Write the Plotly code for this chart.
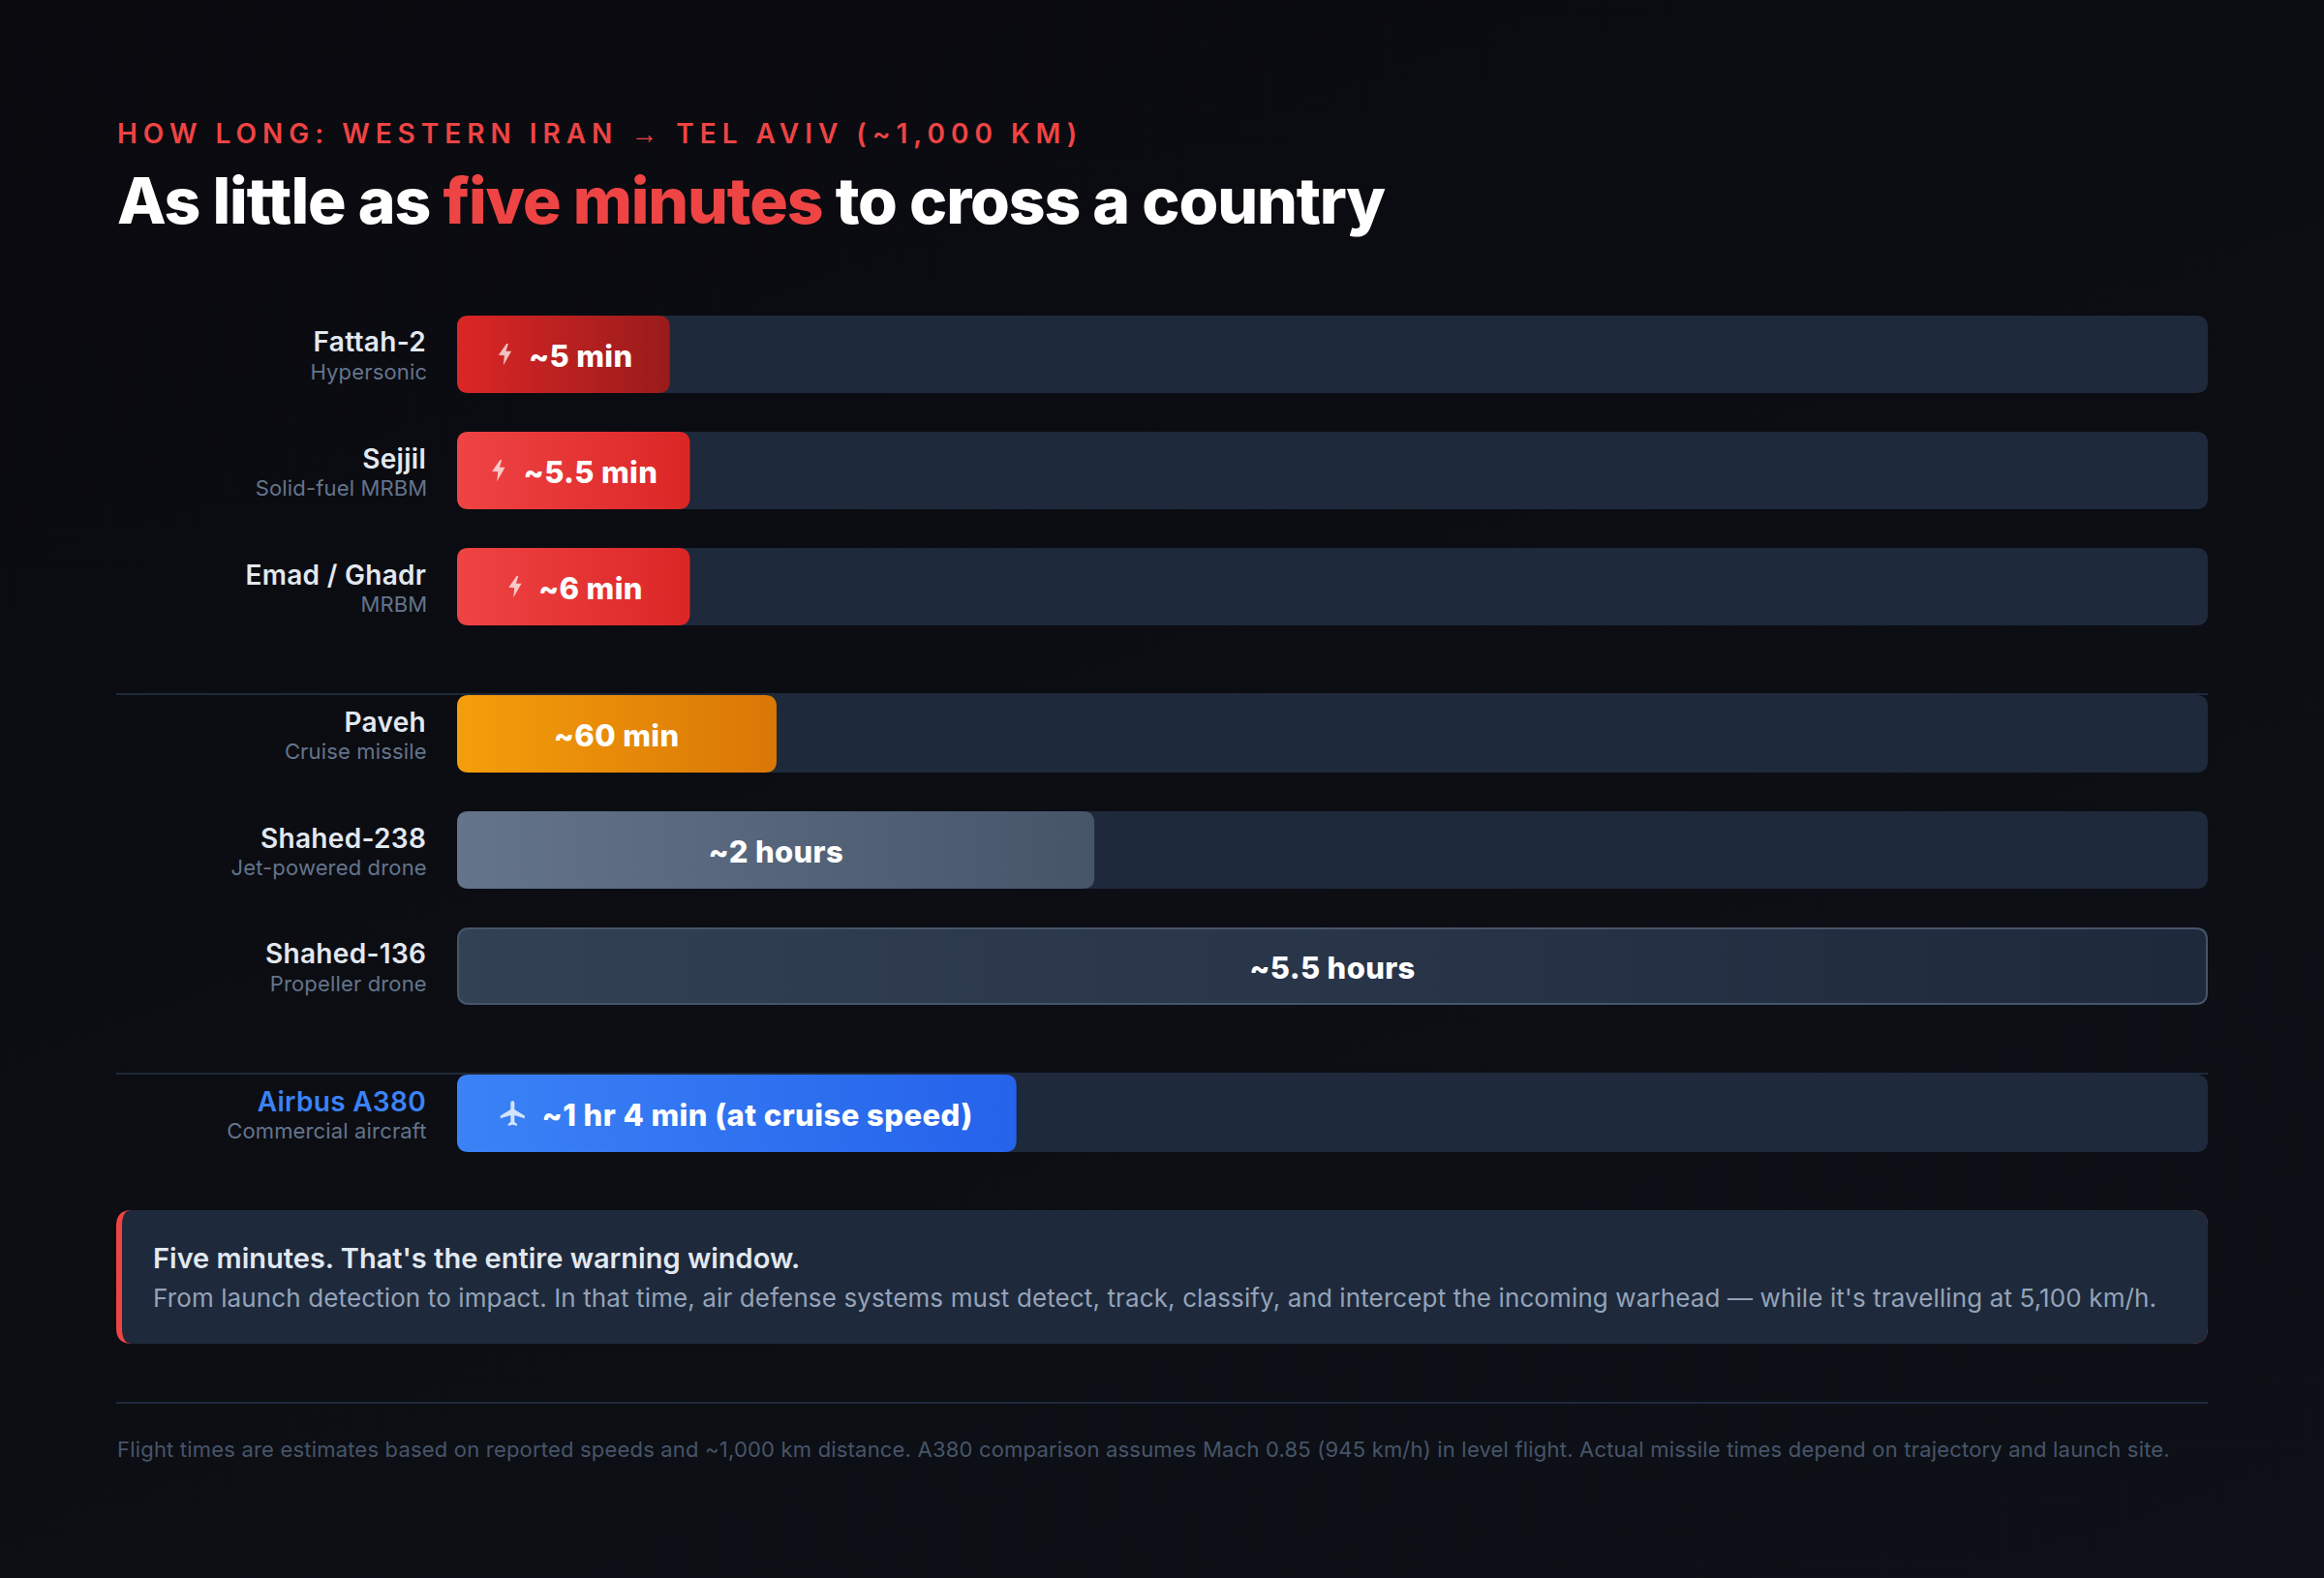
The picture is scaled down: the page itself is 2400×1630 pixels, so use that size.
import json
import plotly.graph_objects as go

# ---- data ----
names = ["Fattah-2", "Sejjil", "Emad / Ghadr", "Paveh", "Shahed-238", "Shahed-136", "Airbus A380"]
types = ["Hypersonic", "Solid-fuel MRBM", "MRBM", "Cruise missile", "Jet-powered drone", "Propeller drone", "Commercial aircraft"]
bar_share = [12.15, 13.3, 13.3, 18.25, 36.4, 100, 31.95]   # bar length as % of the track
time_labels = ["~5 min", "~5.5 min", "~6 min", "~60 min", "~2 hours", "~5.5 hours", "~1 hr 4 min (at cruise speed)"]
groups = [0, 0, 0, 1, 1, 1, 2]
icons = ["bolt", "bolt", "bolt", None, None, None, "plane"]
grad_start = ["#dc2626", "#ef4444", "#ef4444", "#f59e0b", "#64748b", "#334155", "#3b82f6"]
grad_end = ["#991b1b", "#dc2626", "#dc2626", "#d97706", "#475569", "#1e293b", "#2563eb"]

eyebrow = ('HOW LONG: WESTERN IRAN <span style="font-family:\'Liberation Sans\';font-weight:400">→</span> '
           'TEL AVIV (~1,000 KM)')
title = 'As little as <span style="color:#ef4444">five minutes</span> to cross a country'
call_head = "Five minutes. That's the entire warning window."
call_body = ("From launch detection to impact. In that time, air defense systems must detect, track, classify, "
             "and intercept the incoming warhead — while it's travelling at 5,100 km/h.")
footnote = ("Flight times are estimates based on reported speeds and ~1,000 km distance. A380 comparison assumes "
            "Mach 0.85 (945 km/h) in level flight. Actual missile times depend on trajectory and launch site.")

# ---- layout constants (pixels on the 2400x1630 canvas) ----
W, H = 2400, 1630
L, R, TX0, TX1 = 120, 2280, 472, 2280
ROW0, STEP, BAR_H, GROUP_GAP = 366, 120, 80, 32
FONT = "Inter"

row_pos = [i + g * GROUP_GAP / STEP for i, g in enumerate(groups)]
row_px = [ROW0 + p * STEP for p in row_pos]


def px(x):
    return x / W


def py(y):
    return 1 - y / H


def data_x(v):
    return TX0 + v / 100 * (TX1 - TX0)


def poly(points):
    return "M" + " L".join(f"{px(x):.5f},{py(y):.5f}" for x, y in points) + " Z"


def rrect(x0, y0, x1, y1, r):
    return (f"M{px(x0 + r):.5f},{py(y0):.5f} L{px(x1 - r):.5f},{py(y0):.5f} "
            f"Q{px(x1):.5f},{py(y0):.5f} {px(x1):.5f},{py(y0 + r):.5f} "
            f"L{px(x1):.5f},{py(y1 - r):.5f} Q{px(x1):.5f},{py(y1):.5f} {px(x1 - r):.5f},{py(y1):.5f} "
            f"L{px(x0 + r):.5f},{py(y1):.5f} Q{px(x0):.5f},{py(y1):.5f} {px(x0):.5f},{py(y1 - r):.5f} "
            f"L{px(x0):.5f},{py(y0 + r):.5f} Q{px(x0):.5f},{py(y0):.5f} {px(x0 + r):.5f},{py(y0):.5f} Z")


annotations = []
spacing = {}


def text(x, y, s, size, color, weight=400, anchor="left", ls=0):
    annotations.append(dict(x=px(x), y=py(y), xref="paper", yref="paper", text=s, showarrow=False,
                            xanchor=anchor, yanchor="middle", align=anchor,
                            font=dict(family=FONT, size=size, color=color, weight=weight)))
    if ls:
        plain = s.split("<")[0]
        spacing[plain] = ls


shapes = []


def fill_path(path, color, layer="above"):
    shapes.append(dict(type="path", path=path, xref="paper", yref="paper", fillcolor=color,
                       line=dict(width=0), layer=layer))


fig = go.Figure()
fig.add_trace(go.Bar(y=row_pos, x=[100] * len(names), orientation="h", width=BAR_H / STEP,
                     marker=dict(color="#1e293b", line=dict(width=0)),
                     hoverinfo="skip", showlegend=False))
fig.add_trace(go.Bar(y=row_pos, x=bar_share, orientation="h", width=BAR_H / STEP,
                     marker=dict(color=grad_start,
                                 line=dict(width=[2 if v >= 100 else 0 for v in bar_share], color="#475569")),
                     hoverinfo="skip", showlegend=False))

# header
text(L - 1.5, 138, eyebrow, 28, "#ef4444", 600, ls=5.98)
text(L - 1.5, 207, title, 66, "#ffffff", 800, ls=-1.15)

# row labels, values, icons
SHIFT = {"bolt": 18, "plane": 21.5, None: 0}
HALF = {"~5 min": 52, "~5.5 min": 69, "~6 min": 52, "~1 hr 4 min (at cruise speed)": 222}
for i, n in enumerate(names):
    y = row_px[i]
    text(442, y - 12.5, n, 28, "#3b82f6" if n.startswith("Airbus") else "#e2e8f0", 600, "right", ls=0.3)
    text(442.5, y + 18, types[i], 22, "#64748b", 400, "right", ls=0.15)
    cx = (data_x(0) + data_x(bar_share[i])) / 2 + SHIFT[icons[i]]
    lab_ls = 0.45 if icons[i] == "plane" else 0.35
    text(cx, y + 1, time_labels[i], 31, "#ffffff", 800, "center", ls=lab_ls)
    if icons[i] == "bolt":
        ix = cx - HALF[time_labels[i]] - 26.5
        pts = [(1.8, -11), (3.5, -11), (1.2, -3.3), (6.8, -3.3), (-1.5, 11.3), (-0.5, 1.3), (-6.5, 0.7)]
        fill_path(poly([(ix + a, y + b) for a, b in pts]), "rgba(255,255,255,0.72)")
    elif icons[i] == "plane":
        ix = cx - HALF[time_labels[i]] - 31
        pts = [(21, 16), (21, 14), (13, 9), (13, 3.5), (12.6, 2.5), (11.5, 2), (10.4, 2.5), (10, 3.5), (10, 9),
               (2, 14), (2, 16), (10, 13.5), (10, 19), (8, 20.5), (8, 22), (11.5, 21), (15, 22), (15, 20.5),
               (13, 19), (13, 13.5)]
        fill_path(poly([(ix + (a - 11.5) * 1.32, y + (b - 12) * 1.3) for a, b in pts]), "rgba(255,255,255,0.78)")

# group dividers
for i in range(1, len(names)):
    if groups[i] != groups[i - 1]:
        yy = row_px[i] - BAR_H / 2 - 1
        shapes.append(dict(type="line", xref="paper", yref="paper", x0=px(L), x1=px(R), y0=py(yy), y1=py(yy),
                           line=dict(color="#1e293b", width=2), layer="below"))

# callout
fill_path(rrect(L, 1250, R, 1388, 16), "#ef4444", "below")
fill_path(("M" + f"{px(136):.5f},{py(1250):.5f} L{px(2264):.5f},{py(1250):.5f} "
           f"Q{px(R):.5f},{py(1250):.5f} {px(R):.5f},{py(1266):.5f} L{px(R):.5f},{py(1372):.5f} "
           f"Q{px(R):.5f},{py(1388):.5f} {px(2264):.5f},{py(1388):.5f} L{px(136):.5f},{py(1388):.5f} "
           f"Q{px(126):.5f},{py(1388):.5f} {px(126):.5f},{py(1372):.5f} L{px(126):.5f},{py(1266):.5f} "
           f"Q{px(126):.5f},{py(1250):.5f} {px(136):.5f},{py(1250):.5f} Z"), "#1e293b", "below")
text(156, 1299.5, call_head, 29, "#e2e8f0", 600)
text(156, 1340.5, call_body, 26, "#94a3b8", 400, ls=0.117)

# footer
shapes.append(dict(type="line", xref="paper", yref="paper", x0=px(L), x1=px(R), y0=py(1449), y1=py(1449),
                   line=dict(color="#1e293b", width=2), layer="below"))
text(L - 1.5, 1496.5, footnote, 22, "#475569", 400, ls=0.19)

fig.update_layout(
    width=W, height=H, margin=dict(l=0, r=0, t=0, b=0), barmode="overlay",
    paper_bgcolor="#0b0d13", plot_bgcolor="rgba(0,0,0,0)", showlegend=False,
    xaxis=dict(domain=[px(TX0), px(TX1)], range=[0, 100], visible=False, fixedrange=True),
    yaxis=dict(domain=[0, 1], range=[(H - ROW0) / STEP, -ROW0 / STEP], visible=False, fixedrange=True),
    annotations=annotations, shapes=shapes,
)

post = """
var gd = document.getElementById('{plot_id}');
document.documentElement.style.overflow = 'hidden';
document.body.style.margin = '0';
document.body.style.background = '#0b0d13';
var starts = %s, ends = %s, spacing = %s, RAD = 12;
var svg = gd.querySelector('.main-svg');
svg.style.setProperty('background', 'linear-gradient(160deg,#0a0a0f 0%%,#0d1117 100%%)');
var NS = 'http://www.w3.org/2000/svg';
var defs = svg.querySelector('defs');
function rounded(p, inset) {{
  var b = p.getBBox(), x0 = b.x + inset, y0 = b.y + inset, x1 = b.x + b.width - inset, y1 = b.y + b.height - inset, r = RAD;
  p.setAttribute('d', 'M' + (x0 + r) + ',' + y0 + 'H' + (x1 - r) + 'Q' + x1 + ',' + y0 + ' ' + x1 + ',' + (y0 + r) +
    'V' + (y1 - r) + 'Q' + x1 + ',' + y1 + ' ' + (x1 - r) + ',' + y1 + 'H' + (x0 + r) +
    'Q' + x0 + ',' + y1 + ' ' + x0 + ',' + (y1 - r) + 'V' + (y0 + r) + 'Q' + x0 + ',' + y0 + ' ' + (x0 + r) + ',' + y0 + 'Z');
}}
var layers = gd.querySelectorAll('.barlayer .trace');
layers[0].querySelectorAll('.point path').forEach(function(p) {{ rounded(p, 0); }});
layers[1].querySelectorAll('.point path').forEach(function(p, i) {{
  rounded(p, parseFloat(p.style.strokeWidth) > 0 ? 1 : 0);
  var g = document.createElementNS(NS, 'linearGradient');
  g.setAttribute('id', 'bargrad' + i);
  [[0, starts[i]], [1, ends[i]]].forEach(function(s) {{
    var st = document.createElementNS(NS, 'stop');
    st.setAttribute('offset', s[0]); st.setAttribute('stop-color', s[1]); g.appendChild(st);
  }});
  defs.appendChild(g);
  p.style.setProperty('fill', 'url(#bargrad' + i + ')');
}});
gd.querySelectorAll('.annotation-text').forEach(function(t) {{
  Object.keys(spacing).forEach(function(k) {{
    if (t.textContent.indexOf(k) === 0) t.style.letterSpacing = spacing[k] + 'px';
  }});
}});
""" % (json.dumps(grad_start), json.dumps(grad_end), json.dumps(spacing))

fig.write_html("out.html", post_script=post, config={"displayModeBar": False, "responsive": False})
